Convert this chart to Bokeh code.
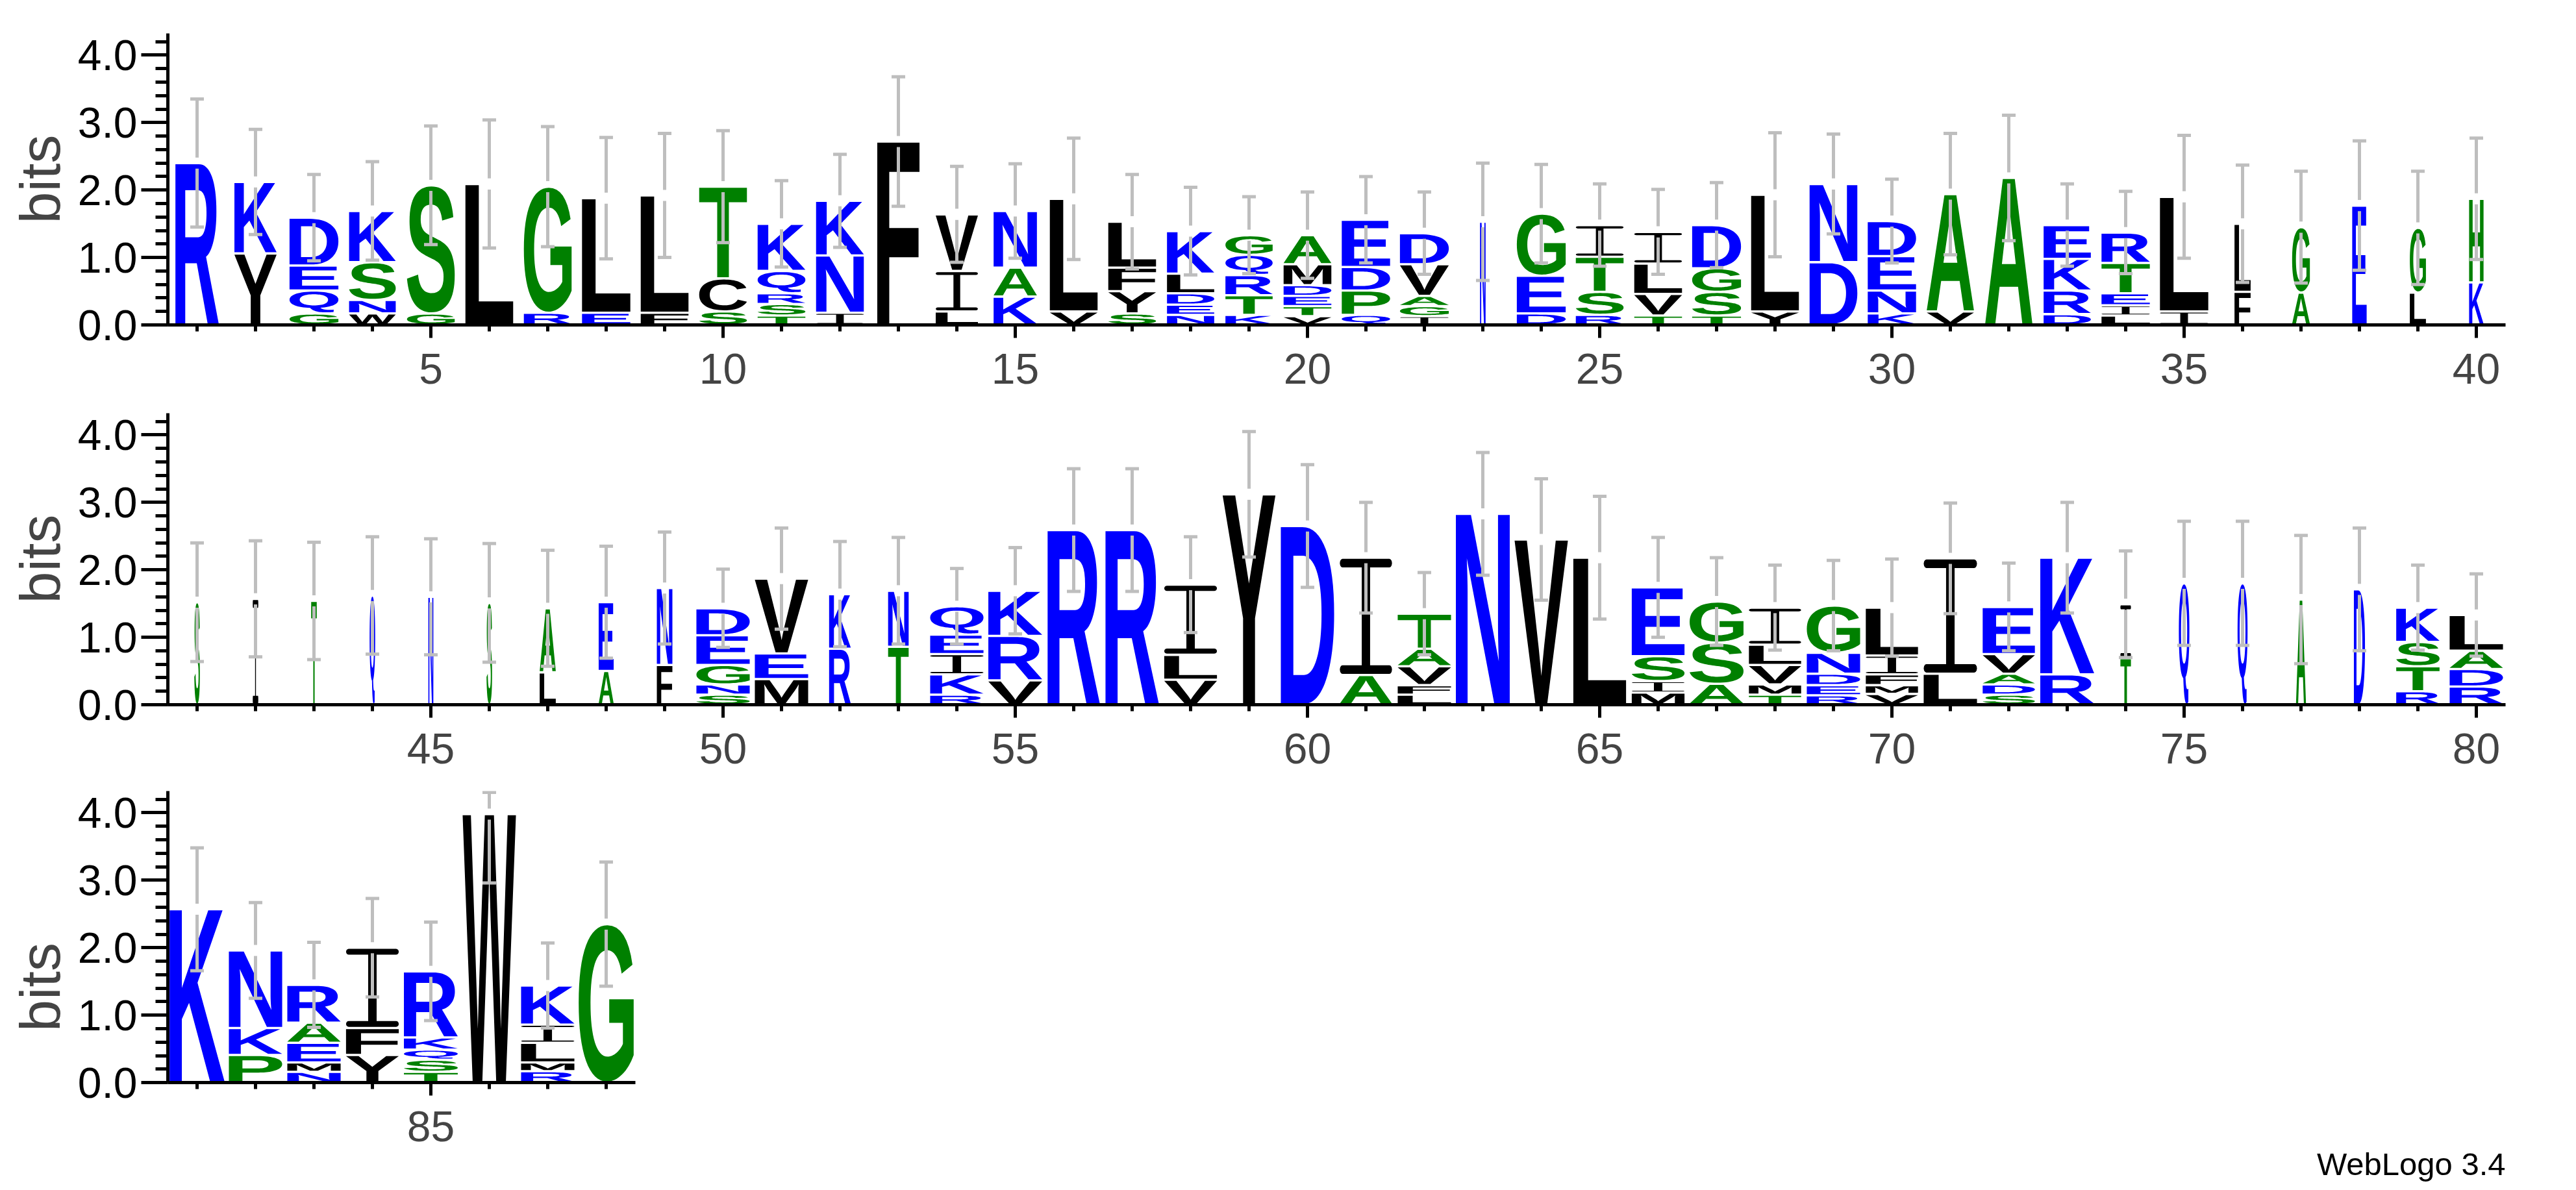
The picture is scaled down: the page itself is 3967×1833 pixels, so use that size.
import os
import math
import struct
import subprocess

from bokeh.plotting import figure
from bokeh.layouts import column
from bokeh.models import (Range1d, SingleIntervalTicker, PrintfTickFormatter,
                          Label, ColumnDataSource)
from bokeh.embed import file_html
from bokeh.resources import INLINE

# ---------------------------------------------------------------- data
# letters of each stack, bottom to top
stack_letters = [
    "R", "YK", "GQED", "WNSK", "GS", "L", "RG", "EL", "FL", "SCT",
    "TSRQK", "INK", "F", "LIV", "KAN", "VL", "SYFL", "NEDLK", "KTRQG", "VTEDMA",
    "QPDE", "IGAVD", "N", "DEG", "RSTI", "TVLI", "TSGD", "YL", "DN", "KNED",
    "VA", "A", "DRKE", "LIETR", "IL", "FL", "AG", "E", "LG", "KH",
    "S", "I", "T", "Q", "N", "S", "LA", "AE", "FN", "SNGED",
    "MEV", "RK", "TN", "RKIEQ", "VRK", "R", "R", "VLI", "Y", "D",
    "AI", "LFVAT", "N", "V", "L", "MISE", "ASG", "TMVLI", "REDNG", "VMFIL",
    "LI", "SDAVE", "RK", "TI", "Q", "Q", "A", "D", "RTSK", "RDAL",
    "K", "PKN", "NMEAR", "YFI", "TSQKR", "W", "RMLIK", "G",
]

# information (bits) of each letter, bottom to top
stack_heights = [
    [2.40], [1.06, 1.06], [0.17, 0.34, 0.37, 0.71], [0.17, 0.20, 0.56, 0.76],
    [0.17, 1.90], [2.09], [0.18, 1.87], [0.18, 1.70], [0.18, 1.74],
    [0.20, 0.49, 1.36], [0.14, 0.17, 0.16, 0.33, 0.70], [0.18, 0.85, 0.81],
    [2.72], [0.20, 0.60, 0.84], [0.42, 0.43, 0.84], [0.20, 1.67],
    [0.17, 0.33, 0.35, 0.68], [0.15, 0.15, 0.17, 0.29, 0.63],
    [0.15, 0.29, 0.30, 0.30, 0.29], [0.13, 0.15, 0.15, 0.16, 0.31, 0.43],
    [0.15, 0.36, 0.35, 0.70], [0.13, 0.15, 0.15, 0.47, 0.46], [1.53],
    [0.17, 0.56, 0.92], [0.15, 0.34, 0.52, 0.47], [0.14, 0.32, 0.45, 0.47],
    [0.14, 0.35, 0.35, 0.64], [0.20, 1.73], [0.93, 1.16],
    [0.17, 0.34, 0.51, 0.52], [0.20, 1.74], [2.18], [0.16, 0.35, 0.47, 0.50],
    [0.14, 0.15, 0.18, 0.45, 0.45], [0.20, 1.70], [0.49, 1.01], [0.48, 0.97],
    [1.77], [0.48, 0.96], [0.63, 1.24],
    [1.52], [1.57], [1.54], [1.62], [1.60], [1.51], [0.48, 0.95], [0.50, 1.02],
    [0.59, 1.14], [0.15, 0.15, 0.29, 0.44, 0.40], [0.38, 0.38, 1.11],
    [0.83, 0.81], [0.86, 0.83], [0.15, 0.30, 0.30, 0.29, 0.42],
    [0.36, 0.66, 0.67], [2.59], [2.59], [0.37, 0.37, 1.04], [3.12], [2.65],
    [0.44, 1.74], [0.15, 0.14, 0.28, 0.26, 0.52], [2.83], [2.45], [2.18],
    [0.18, 0.17, 0.37, 1.02], [0.31, 0.61, 0.61], [0.15, 0.15, 0.29, 0.30, 0.55],
    [0.14, 0.15, 0.17, 0.31, 0.70], [0.16, 0.13, 0.16, 0.28, 0.71],
    [0.46, 1.71], [0.15, 0.15, 0.16, 0.29, 0.70], [0.45, 1.73], [0.69, 0.80],
    [1.80], [1.80], [1.56], [1.71], [0.20, 0.37, 0.36, 0.51],
    [0.27, 0.26, 0.27, 0.53],
    [2.57], [0.41, 0.40, 1.15], [0.16, 0.14, 0.29, 0.30, 0.56],
    [0.41, 0.40, 1.19], [0.16, 0.18, 0.15, 0.18, 0.98], [3.98],
    [0.17, 0.13, 0.29, 0.27, 0.58], [2.35],
]

# error bar half-length (bits) at each position
stack_errors = [
    0.95, 0.78, 0.64, 0.73, 0.88, 0.95, 0.89, 0.90, 0.92, 0.83,
    0.64, 0.69, 0.96, 0.71, 0.70, 0.90, 0.70, 0.65, 0.57, 0.64,
    0.64, 0.61, 0.87, 0.73, 0.61, 0.63, 0.63, 0.92, 0.74, 0.62,
    0.90, 0.93, 0.61, 0.61, 0.91, 0.87, 0.83, 0.96, 0.84, 0.90,
    0.88, 0.86, 0.87, 0.87, 0.86, 0.88, 0.86, 0.83, 0.83, 0.58,
    0.75, 0.78, 0.79, 0.56, 0.64, 0.91, 0.91, 0.71, 0.93, 0.91,
    0.82, 0.61, 0.91, 0.90, 0.91, 0.74, 0.65, 0.63, 0.67, 0.72,
    0.82, 0.65, 0.82, 0.79, 0.92, 0.92, 0.95, 0.91, 0.63, 0.61,
    0.91, 0.71, 0.63, 0.73, 0.73, 1.02, 0.63, 0.92,
]

# fraction of sequences with a residue (scales stack width)
occupancy = [
    0.78, 0.76, 0.88, 0.84, 0.86, 0.86, 0.86, 0.87, 0.86, 0.86,
    0.86, 0.86, 0.76, 0.76, 0.78, 0.86, 0.86, 0.85, 0.85, 0.86,
    0.87, 0.88, 0.10, 0.88, 0.86, 0.86, 0.88, 0.86, 0.86, 0.87,
    0.85, 0.85, 0.85, 0.87, 0.87, 0.29, 0.32, 0.26, 0.29, 0.26,
    0.10, 0.10, 0.10, 0.10, 0.09, 0.10, 0.29, 0.27, 0.28, 0.96,
    0.96, 0.39, 0.37, 0.96, 0.97, 0.94, 0.96, 0.95, 0.95, 0.96,
    0.94, 0.96, 0.97, 0.96, 0.95, 0.95, 0.97, 0.94, 0.96, 0.94,
    0.96, 0.94, 0.97, 0.19, 0.19, 0.18, 0.18, 0.20, 0.78, 0.96,
    0.99, 0.96, 0.96, 0.95, 0.97, 0.96, 0.96, 0.99,
]

positions = list(range(1, len(stack_letters) + 1))
per_row = 40
max_bits = 4.3219
credit = "WebLogo 3.4"

hydrophilic = "RKDENQ"
neutral = "SGHTAP"
hydrophobic = "YVMCLFIW"
color_of = {}
for c in hydrophilic:
    color_of[c] = "#0000FF"
for c in neutral:
    color_of[c] = "#008000"
for c in hydrophobic:
    color_of[c] = "#000000"

# ---------------------------------------------------------------- letter outlines from the installed bold sans font
def find_font():
    wanted = ["LiberationSans-Bold.ttf", "Arial_Bold.ttf", "arialbd.ttf",
              "DejaVuSans-Bold.ttf"]
    found = {}
    roots = ["/usr/share/fonts", "/usr/local/share/fonts",
             os.path.expanduser("~/.fonts"),
             os.path.expanduser("~/.local/share/fonts")]
    for r in roots:
        if not os.path.isdir(r):
            continue
        for dp, dn, fn in os.walk(r):
            for f in fn:
                if f in wanted and f not in found:
                    found[f] = os.path.join(dp, f)
    for w in wanted:
        if w in found:
            return found[w]
    try:
        out = subprocess.run(["fc-match", "-f", "%{file}", "Liberation Sans:bold"],
                             capture_output=True, text=True, timeout=10).stdout.strip()
        if out.lower().endswith(".ttf") and os.path.exists(out):
            return out
    except Exception:
        pass
    return None


class TTF:
    def __init__(self, path):
        d = open(path, "rb").read()
        self.d = d
        off0 = struct.unpack(">I", d[12:16])[0] if d[:4] == b"ttcf" else 0
        n = struct.unpack(">H", d[off0 + 4:off0 + 6])[0]
        self.t = {}
        for i in range(n):
            rec = off0 + 12 + 16 * i
            tag, _, off, ln = struct.unpack(">4sIII", d[rec:rec + 16])
            self.t[tag.decode("latin-1")] = off
        head = self.t["head"]
        self.loc_fmt = struct.unpack(">h", d[head + 50:head + 52])[0]
        maxp = self.t["maxp"]
        self.ng = struct.unpack(">H", d[maxp + 4:maxp + 6])[0]
        lo = self.t["loca"]
        if self.loc_fmt == 0:
            self.loca = [2 * v for v in struct.unpack(
                ">%dH" % (self.ng + 1), d[lo:lo + 2 * (self.ng + 1)])]
        else:
            self.loca = list(struct.unpack(
                ">%dI" % (self.ng + 1), d[lo:lo + 4 * (self.ng + 1)]))
        self.glyf = self.t["glyf"]

    def gid(self, ch):
        d = self.d
        cm = self.t["cmap"]
        nsub = struct.unpack(">H", d[cm + 2:cm + 4])[0]
        code = ord(ch)
        for i in range(nsub):
            pid, eid, off = struct.unpack(">HHI", d[cm + 4 + 8 * i:cm + 12 + 8 * i])
            sub = cm + off
            fmt = struct.unpack(">H", d[sub:sub + 2])[0]
            if fmt != 4 or pid not in (0, 3):
                continue
            segx2 = struct.unpack(">H", d[sub + 6:sub + 8])[0]
            seg = segx2 // 2
            ends = struct.unpack(">%dH" % seg, d[sub + 14:sub + 14 + segx2])
            starts = struct.unpack(">%dH" % seg, d[sub + 16 + segx2:sub + 16 + 2 * segx2])
            deltas = struct.unpack(">%dh" % seg, d[sub + 16 + 2 * segx2:sub + 16 + 3 * segx2])
            rpos = sub + 16 + 3 * segx2
            ros = struct.unpack(">%dH" % seg, d[rpos:rpos + segx2])
            for k in range(seg):
                if starts[k] <= code <= ends[k]:
                    if ros[k] == 0:
                        return (code + deltas[k]) & 0xFFFF
                    addr = rpos + 2 * k + ros[k] + 2 * (code - starts[k])
                    g = struct.unpack(">H", d[addr:addr + 2])[0]
                    return (g + deltas[k]) & 0xFFFF if g else 0
        return 0

    def contours(self, g):
        d = self.d
        s = self.glyf + self.loca[g]
        e = self.glyf + self.loca[g + 1]
        if e <= s:
            return []
        nc = struct.unpack(">h", d[s:s + 2])[0]
        p = s + 10
        if nc >= 0:
            endpts = struct.unpack(">%dH" % nc, d[p:p + 2 * nc])
            p += 2 * nc
            il = struct.unpack(">H", d[p:p + 2])[0]
            p += 2 + il
            n = endpts[-1] + 1 if nc else 0
            flags = []
            while len(flags) < n:
                f = d[p]
                p += 1
                flags.append(f)
                if f & 8:
                    r = d[p]
                    p += 1
                    flags.extend([f] * r)
            flags = flags[:n]
            xs = []
            v = 0
            for f in flags:
                if f & 2:
                    dd = d[p]
                    p += 1
                    v += dd if f & 16 else -dd
                elif not (f & 16):
                    v += struct.unpack(">h", d[p:p + 2])[0]
                    p += 2
                xs.append(v)
            ys = []
            v = 0
            for f in flags:
                if f & 4:
                    dd = d[p]
                    p += 1
                    v += dd if f & 32 else -dd
                elif not (f & 32):
                    v += struct.unpack(">h", d[p:p + 2])[0]
                    p += 2
                ys.append(v)
            out = []
            st = 0
            for en in endpts:
                out.append([(xs[i], ys[i], bool(flags[i] & 1)) for i in range(st, en + 1)])
                st = en + 1
            return out
        out = []
        while True:
            fl, gi = struct.unpack(">HH", d[p:p + 4])
            p += 4
            if fl & 1:
                dx, dy = struct.unpack(">hh", d[p:p + 4])
                p += 4
            else:
                dx, dy = struct.unpack(">bb", d[p:p + 2])
                p += 2
            a, b, c, dd = 1.0, 0.0, 0.0, 1.0
            if fl & 8:
                a = dd = struct.unpack(">h", d[p:p + 2])[0] / 16384.0
                p += 2
            elif fl & 0x40:
                a, dd = [q / 16384.0 for q in struct.unpack(">hh", d[p:p + 4])]
                p += 4
            elif fl & 0x80:
                a, b, c, dd = [q / 16384.0 for q in struct.unpack(">hhhh", d[p:p + 8])]
                p += 8
            for cont in self.contours(gi):
                out.append([(a * x + c * y + dx, b * x + dd * y + dy, on) for x, y, on in cont])
            if not (fl & 0x20):
                break
        return out


def flatten(pts, steps=8):
    n = len(pts)
    ex = []
    for i in range(n):
        x, y, on = pts[i]
        nx, ny, non = pts[(i + 1) % n]
        ex.append((x, y, on))
        if not on and not non:
            ex.append(((x + nx) / 2.0, (y + ny) / 2.0, True))
    k = 0
    while not ex[k][2]:
        k += 1
    ex = ex[k:] + ex[:k]
    m = len(ex)
    cx, cy = ex[0][0], ex[0][1]
    out = [(cx, cy)]
    i = 1
    while i <= m:
        x, y, on = ex[i % m]
        if on:
            out.append((x, y))
            cx, cy = x, y
            i += 1
        else:
            qx, qy, _ = ex[(i + 1) % m]
            for s in range(1, steps + 1):
                t = s / steps
                a, b, c = (1 - t) ** 2, 2 * (1 - t) * t, t * t
                out.append((a * cx + b * x + c * qx, a * cy + b * y + c * qy))
            cx, cy = qx, qy
            i += 2
    if len(out) > 1 and out[-1] == out[0]:
        out.pop()
    return out


def beam_I():
    # I drawn as an I-beam, as the reference logo does
    t = 0.075
    rx = 0.05
    l, r = 0.42, 0.58
    pts = []

    def arc(cx, cy, a0, a1, ry, n=6):
        res = []
        for j in range(n + 1):
            a = math.radians(a0 + (a1 - a0) * j / n)
            res.append((cx + rx * math.cos(a), cy + ry * math.sin(a)))
        return res
    pts += [(rx, 0.0), (1 - rx, 0.0)]
    pts += arc(1 - rx, t / 2, -90, 90, t / 2)[1:]
    pts += [(r, t), (r, 1 - t), (1 - rx, 1 - t)]
    pts += arc(1 - rx, 1 - t / 2, -90, 90, t / 2)[1:]
    pts += [(rx, 1.0)]
    pts += arc(rx, 1 - t / 2, 90, 270, t / 2)[1:]
    pts += [(l, 1 - t), (l, t), (rx, t)]
    pts += arc(rx, t / 2, 90, 270, t / 2)[1:-1]
    return [pts]


needed = sorted(set("".join(stack_letters)))
shapes = {}
font_path = find_font()
if font_path:
    try:
        ttf = TTF(font_path)
        for ch in needed:
            if ch == "I":
                continue
            rings = [flatten(c) for c in ttf.contours(ttf.gid(ch)) if len(c) > 2]
            allx = [x for rg in rings for x, y in rg]
            ally = [y for rg in rings for x, y in rg]
            x0, x1, y0, y1 = min(allx), max(allx), min(ally), max(ally)
            shapes[ch] = [[((x - x0) / (x1 - x0), (y - y0) / (y1 - y0)) for x, y in rg]
                          for rg in rings]
    except Exception:
        shapes = {}
shapes["I"] = beam_I()

# ---------------------------------------------------------------- figures
STACK_W = 0.95       # full stack width, in positions
GAP = 0.017          # vertical gap between letters (bits)
BAR_GAP = 0.082
CAP_W = 0.233
FONT = "Liberation Sans"
PX_PER_BIT = 449 / max_bits

row_specs = [  # (min_border_top, min_border_bottom, extra bits below zero)
    (51, 128, 0.0),
    (8, 128, 0.0),
    (5, 0, 1.49),
]

figs = []
n_rows = (len(positions) + per_row - 1) // per_row
for r in range(n_rows):
    top_b, bot_b, below = row_specs[r]
    last_row = (r == n_rows - 1)
    x_start = r * per_row + 0.5
    x_end = r * per_row + per_row + 0.5
    frame_h = int(round((max_bits + below) * PX_PER_BIT))
    p = figure(width=3950, height=top_b + frame_h + bot_b,
               x_range=Range1d(x_start, x_end),
               y_range=Range1d(-below, max_bits), output_backend="svg",
               toolbar_location=None, min_border_left=258, min_border_right=92,
               min_border_top=top_b, min_border_bottom=bot_b)
    p.outline_line_color = None
    p.xgrid.visible = False
    p.ygrid.visible = False
    p.background_fill_color = "white"
    p.border_fill_color = "white"

    xs, ys, cols = [], [], []
    sx0, sy0, sx1, sy1 = [], [], [], []
    last_pos = min(len(positions), (r + 1) * per_row)
    for idx in range(r * per_row, last_pos):
        pos = positions[idx]
        w = occupancy[idx] * STACK_W
        base = 0.0
        for ch, h in zip(stack_letters[idx], stack_heights[idx]):
            yb = base + GAP
            hh = max(h - 2 * GAP, 0.005)
            if ch in shapes:
                xs.append([[[round(pos - w / 2 + u * w, 4) for u, v in rg]
                            for rg in shapes[ch]]])
                ys.append([[[round(yb + v * hh, 4) for u, v in rg]
                            for rg in shapes[ch]]])
                cols.append(color_of[ch])
            base += h
        top = base
        err = stack_errors[idx]
        hi = min(top + err, max_bits - 0.02)
        lo = max(top - err, 0.0)
        # upper and lower halves of the bar, with caps
        sx0 += [pos, pos, pos - CAP_W / 2, pos - CAP_W / 2]
        sx1 += [pos, pos, pos + CAP_W / 2, pos + CAP_W / 2]
        sy0 += [top + BAR_GAP, top - BAR_GAP, hi, lo]
        sy1 += [hi, lo, hi, lo]

    src = ColumnDataSource(dict(xs=xs, ys=ys, color=cols))
    p.multi_polygons(xs="xs", ys="ys", fill_color="color", line_color=None,
                     source=src)
    bar_src = ColumnDataSource(dict(x0=sx0, y0=sy0, x1=sx1, y1=sy1))
    p.segment(x0="x0", y0="y0", x1="x1", y1="y1", line_color="#bebebe",
              line_width=5, line_cap="butt", source=bar_src)

    # y axis
    ya = p.yaxis[0]
    ya.ticker = SingleIntervalTicker(interval=1, num_minor_ticks=5)
    ya.formatter = PrintfTickFormatter(format="%.1f")
    ya.axis_label = "bits"
    ya.axis_label_text_font = FONT
    ya.axis_label_text_font_size = "88px"
    ya.axis_label_text_font_style = "normal"
    ya.axis_label_standoff = 6
    ya.major_label_text_font = FONT
    ya.major_label_text_font_size = "66px"
    ya.major_label_standoff = 6
    ya.major_tick_out = 41
    ya.major_tick_in = 0
    ya.minor_tick_out = 19
    ya.minor_tick_in = 0
    ya.major_tick_line_width = 5
    ya.minor_tick_line_width = 5
    ya.axis_line_width = 5
    ya.major_label_text_color = "black"
    if below > 0:
        ya.bounds = (0, max_bits)

    # x axis
    xa = p.xaxis[0]
    xa.ticker = SingleIntervalTicker(interval=5, num_minor_ticks=5)
    xa.major_label_text_font = FONT
    xa.major_label_text_font_size = "66px"
    xa.major_label_standoff = 24
    xa.major_tick_out = 20
    xa.major_tick_in = 0
    xa.minor_tick_out = 10
    xa.minor_tick_in = 0
    xa.major_tick_line_width = 5
    xa.minor_tick_line_width = 5
    xa.axis_line_width = 5
    if below > 0:
        xa.fixed_location = 0
    if last_pos < (r + 1) * per_row:
        xa.bounds = (x_start, positions[last_pos - 1] + 0.5)

    if last_row:
        p.add_layout(Label(x=x_end, y=-1.21, text=credit,
                           text_align="right", text_baseline="middle",
                           text_font=FONT, text_font_size="49px",
                           text_color="black"))
    figs.append(p)

layout = column(*figs, spacing=0)
open("out.html", "w").write(file_html(layout, INLINE, title="WebLogo"))
